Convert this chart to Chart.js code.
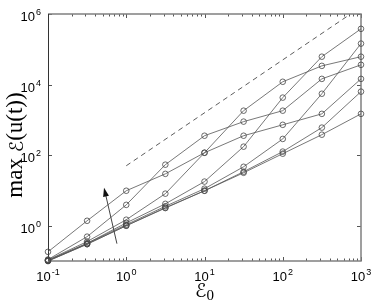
<!DOCTYPE html>
<html>
<head>
<meta charset="utf-8">
<script src="https://cdn.jsdelivr.net/npm/chart.js@4"></script>
<style>
  html, body { margin: 0; padding: 0; background: #fff; }
</style>
</head>
<body>
<canvas id="chart" width="374" height="306"></canvas>
<script>
// Initial energy (x axis)
const energy0 = [0.1, 0.316, 1, 3.16, 10, 31.6, 100, 316, 1000];

// Max energy reached, one array per run
const seriesA = [0.182, 1.38, 9.8, 29.5, 117, 1820, 12000, 33900, 61700];
const seriesB = [0.11, 0.49, 3.9, 53.7, 355, 891, 1820, 14500, 36300];
const seriesC = [0.107, 0.355, 1.48, 8.1, 117, 355, 724, 1480, 14500];
const seriesD = [0.105, 0.316, 1.2, 4.17, 17.8, 174, 4270, 61700, 380000];
const seriesE = [0.102, 0.316, 1.07, 3.55, 11.2, 46.8, 288, 5500, 145000];
const seriesF = [0.1, 0.30, 1.0, 3.24, 9.8, 33.9, 126, 603, 6310];
const seriesG = [0.1, 0.30, 1.0, 3.16, 9.8, 31.6, 110, 380, 1480];
const allSeries = [seriesG, seriesF, seriesE, seriesD, seriesC, seriesB, seriesA];

// Dashed reference line
const guideX = [1, 660];
const guideY = [50, 850000];

// Arrow (tail, head) in data units
const arrowX = [0.76, 0.52];
const arrowY = [0.31, 12];

// Tick labels
const xTicks = [0.1, 1, 10, 100, 1000];
const xTickExp = ['-1', '0', '1', '2', '3'];
const yTicks = [1, 100, 10000, 1000000];
const yTickExp = ['0', '2', '4', '6'];

const lineColor = '#555';
const axisColor = '#808080';
const labelFont = "'Liberation Sans', Arial, sans-serif";
const titleFont = "'Liberation Serif', serif";
const scriptFont = "'DejaVu Sans', serif";

function drawPow(ctx, exp, x, y, align) {
  ctx.font = '13px ' + labelFont;
  const w10 = ctx.measureText('10').width;
  ctx.font = '9px ' + labelFont;
  const wExp = ctx.measureText(exp).width;
  const total = w10 + 1 + wExp;
  let left = x - total / 2;
  if (align === 'right') left = x - total;
  ctx.fillStyle = '#000';
  ctx.textAlign = 'left';
  ctx.textBaseline = 'alphabetic';
  ctx.font = '13px ' + labelFont;
  ctx.fillText('10', left, y);
  ctx.font = '9px ' + labelFont;
  ctx.fillText(exp, left + w10 + 1, y - 6);
}

// draws a run of [text, font, dy] pieces left to right, centred on x
function drawPieces(ctx, pieces, x, y) {
  let total = 0;
  pieces.forEach(p => { ctx.font = p[1]; total += ctx.measureText(p[0]).width; });
  let cur = x - total / 2;
  ctx.textAlign = 'left';
  pieces.forEach(p => {
    ctx.font = p[1];
    ctx.fillText(p[0], cur, y + (p[2] || 0));
    cur += ctx.measureText(p[0]).width;
  });
}

const framePlugin = {
  id: 'frame',
  beforeDatasetsDraw(chart) {
    const { ctx, chartArea: a, scales } = chart;
    ctx.save();
    // inward ticks
    ctx.strokeStyle = '#555';
    ctx.lineWidth = 1;
    for (let k = -1; k < 3; k++) {
      for (let m = 1; m <= 10; m++) {
        const v = m * Math.pow(10, k);
        const px = Math.round(scales.x.getPixelForValue(v)) + 0.5;
        const len = (m === 1 || m === 10) ? 4 : 2.5;
        ctx.beginPath();
        ctx.moveTo(px, a.bottom); ctx.lineTo(px, a.bottom - len);
        ctx.moveTo(px, a.top); ctx.lineTo(px, a.top + len);
        ctx.stroke();
      }
    }
    yTicks.forEach(v => {
      const py = Math.round(scales.y.getPixelForValue(v)) + 0.5;
      ctx.beginPath();
      ctx.moveTo(a.left, py); ctx.lineTo(a.left + 4, py);
      ctx.moveTo(a.right, py); ctx.lineTo(a.right - 4, py);
      ctx.stroke();
    });
    // box
    ctx.strokeStyle = axisColor;
    ctx.lineWidth = 1.5;
    ctx.beginPath();
    ctx.moveTo(a.left, a.top); ctx.lineTo(a.right, a.top);
    ctx.lineTo(a.right, a.bottom); ctx.lineTo(a.left, a.bottom);
    ctx.stroke();
    ctx.strokeStyle = '#333';
    ctx.lineWidth = 1;
    ctx.beginPath();
    ctx.moveTo(a.left + 0.5, a.top); ctx.lineTo(a.left + 0.5, a.bottom);
    ctx.stroke();
    ctx.restore();
  },
  afterDraw(chart) {
    const { ctx, chartArea: a, scales } = chart;
    ctx.save();
    xTicks.forEach((v, i) => {
      drawPow(ctx, xTickExp[i], scales.x.getPixelForValue(v), a.bottom + 20, 'center');
    });
    yTicks.forEach((v, i) => {
      drawPow(ctx, yTickExp[i], a.left - 7, scales.y.getPixelForValue(v) + 7, 'right');
    });
    // arrow
    const x0 = scales.x.getPixelForValue(arrowX[0]), y0 = scales.y.getPixelForValue(arrowY[0]);
    const x1 = scales.x.getPixelForValue(arrowX[1]), y1 = scales.y.getPixelForValue(arrowY[1]);
    const ang = Math.atan2(y1 - y0, x1 - x0);
    ctx.strokeStyle = '#444';
    ctx.fillStyle = '#111';
    ctx.lineWidth = 1;
    ctx.beginPath();
    ctx.moveTo(x0, y0);
    ctx.lineTo(x1 - 6 * Math.cos(ang), y1 - 6 * Math.sin(ang));
    ctx.stroke();
    ctx.beginPath();
    ctx.moveTo(x1, y1);
    ctx.lineTo(x1 - 9 * Math.cos(ang) + 3 * Math.sin(ang), y1 - 9 * Math.sin(ang) - 3 * Math.cos(ang));
    ctx.lineTo(x1 - 9 * Math.cos(ang) - 3 * Math.sin(ang), y1 - 9 * Math.sin(ang) + 3 * Math.cos(ang));
    ctx.closePath();
    ctx.fill();
    // axis titles
    ctx.fillStyle = '#000';
    ctx.textBaseline = 'alphabetic';
    drawPieces(ctx, [
      ['ℰ', '19px ' + scriptFont, 1],
      ['0', '15px ' + titleFont, 4]
    ], (a.left + a.right) / 2, a.bottom + 35);
    ctx.translate(22, 145);
    ctx.rotate(-Math.PI / 2);
    drawPieces(ctx, [
      ['max ', '23px ' + titleFont],
      ['ℰ', '19px ' + scriptFont, 1],
      ['(u(t))', '23px ' + titleFont]
    ], 0, 0);
    ctx.restore();
  }
};

const datasets = allSeries.map(s => ({
  data: s.map((v, i) => ({ x: energy0[i], y: v })),
  borderColor: lineColor,
  borderWidth: 0.8,
  pointRadius: 2.8,
  pointStyle: 'circle',
  pointBorderColor: '#444',
  pointBorderWidth: 0.8,
  pointBackgroundColor: 'rgba(0,0,0,0)',
  tension: 0,
  clip: false
}));
datasets.push({
  data: guideX.map((v, i) => ({ x: v, y: guideY[i] })),
  borderColor: '#333',
  borderWidth: 0.8,
  borderDash: [5, 4],
  pointRadius: 0,
  tension: 0
});

new Chart(document.getElementById('chart').getContext('2d'), {
  type: 'line',
  data: { datasets },
  options: {
    responsive: false,
    animation: false,
    layout: { padding: { left: 48, top: 14, right: 13, bottom: 45 } },
    plugins: { legend: { display: false }, tooltip: { enabled: false } },
    scales: {
      x: { type: 'logarithmic', min: 0.1, max: 1000, display: false },
      y: { type: 'logarithmic', min: 0.1, max: 1000000, display: false }
    }
  },
  plugins: [framePlugin]
});
</script>
</body>
</html>
